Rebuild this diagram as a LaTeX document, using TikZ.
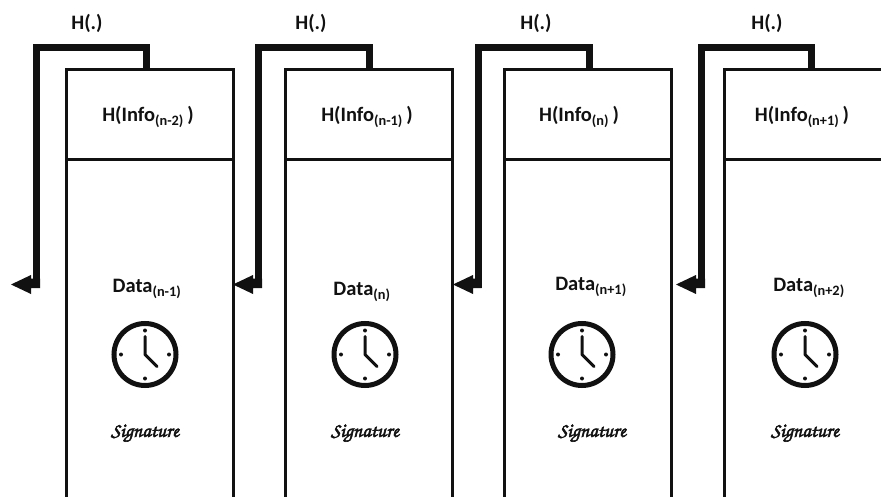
\documentclass[tikz,border=0pt]{standalone}
\usepackage{fontspec}
\setmainfont{Carlito}
\usetikzlibrary{arrows.meta}
\definecolor{ink}{HTML}{111111}
\newcommand{\heavy}[1]{\special{pdf:code 2 Tr 0.55 w}#1\special{pdf:code 0 Tr}}
\tikzset{
  x=1pt,y=-1pt,
  hdr/.style={draw=ink,line width=3pt,outer sep=0pt,minimum width=167pt,minimum height=90pt,inner sep=0pt,anchor=north west},
  bod/.style={draw=ink,line width=3pt,outer sep=0pt,minimum width=167pt,minimum height=360pt,inner sep=0pt,anchor=north west},
  lbl/.style={font=\fontsize{20.5}{23}\selectfont\bfseries,text=ink,inner sep=0pt},
  sig/.style={font=\usefont{OT1}{pzc}{m}{it}\fontsize{20}{22}\selectfont,text=ink,inner sep=0pt},
  link/.style={draw=ink,line width=7pt,miter limit=10},
  tip/.style={fill=ink,draw=none},
  face/.style={circle,draw=ink,line width=5pt,minimum size=62pt,inner sep=0pt,outer sep=0pt},
  hand/.style={draw=ink,line width=3pt,line cap=round,line join=round},
  tick/.style={fill=ink,draw=none}
}
\newcommand{\clockat}[3]{%
  \node[face] (#3) at (#1,#2) {};
  \foreach \dx/\dy in {0/-24,0/24,-24/0,24/0}{\fill[tick] (#1+\dx,#2+\dy) circle (2pt);}
  \draw[hand] (#1,#2-18) -- (#1,#2) -- (#1+12,#2+12);
}
\newcommand{\linkpath}[5]{%
  \draw[link] (#1,#2) -- (#1,47.5) -- (#3,47.5) -- (#3,#4+3.5);
  \fill[tip] (#5,#4) -- (#5+20,#4-9.5) -- (#5+20,#4-6) -- (#3+3.5,#4-6) -- (#3+3.5,#4+3.5) -- (#5+20,#4+3.5) -- (#5+20,#4+9.5) -- cycle;
}
\begin{document}
\begin{tikzpicture}
\useasboundingbox (0,0) rectangle (881,497);
\clip (0,0) rectangle (881,497);
% boxes
\node[bod] (b1) at (66,159.5) {};
\node[hdr] (h1) at (66,69.5) {};
\node[bod] (b2) at (285,159.5) {};
\node[hdr] (h2) at (285,69.5) {};
\node[bod] (b3) at (504.5,159.5) {};
\node[hdr] (h3) at (504.5,69.5) {};
\node[bod] (b4) at (724,159.5) {};
\node[hdr] (h4) at (724,69.5) {};
% links
\linkpath{146}{69}{36.5}{284.5}{11}
\linkpath{369}{69}{258.5}{284.5}{233}
\linkpath{589}{69}{478}{284.5}{453}
\linkpath{811}{69}{701.5}{284.5}{676}
% labels
\node[lbl] (t1) at (87,23) {H(.)};
\node[lbl] (t2) at (311,23) {H(.)};
\node[lbl] (t3) at (536,23) {H(.)};
\node[lbl] (t4) at (767,23) {H(.)};
\node[lbl] (i1) at (148,117) {H(Info\textsubscript{(n-2)}\,)};
\node[lbl] (i2) at (367,117) {H(Info\textsubscript{(n-1)}\,)};
\node[lbl] (i3) at (579,117) {H(Info\textsubscript{(n)}\,)};
\node[lbl] (i4) at (802,117) {H(Info\textsubscript{(n+1)}\,)};
\node[lbl] (d1) at (147,289) {Data\textsubscript{(n-1)}};
\node[lbl] (d2) at (362,292) {Data\textsubscript{(n)}};
\node[lbl] (d3) at (591,287) {Data\textsubscript{(n+1)}};
\node[lbl] (d4) at (809,288) {Data\textsubscript{(n+2)}};
\clockat{145}{354.5}{c1}
\clockat{365}{354.5}{c2}
\clockat{582}{354.5}{c3}
\clockat{805}{354.5}{c4}
\node[sig] (s1) at (145,433.5) {\heavy{Signature}};
\node[sig] (s2) at (365,433.5) {\heavy{Signature}};
\node[sig] (s3) at (592,433.5) {\heavy{Signature}};
\node[sig] (s4) at (805,433.5) {\heavy{Signature}};
\end{tikzpicture}
\end{document}
